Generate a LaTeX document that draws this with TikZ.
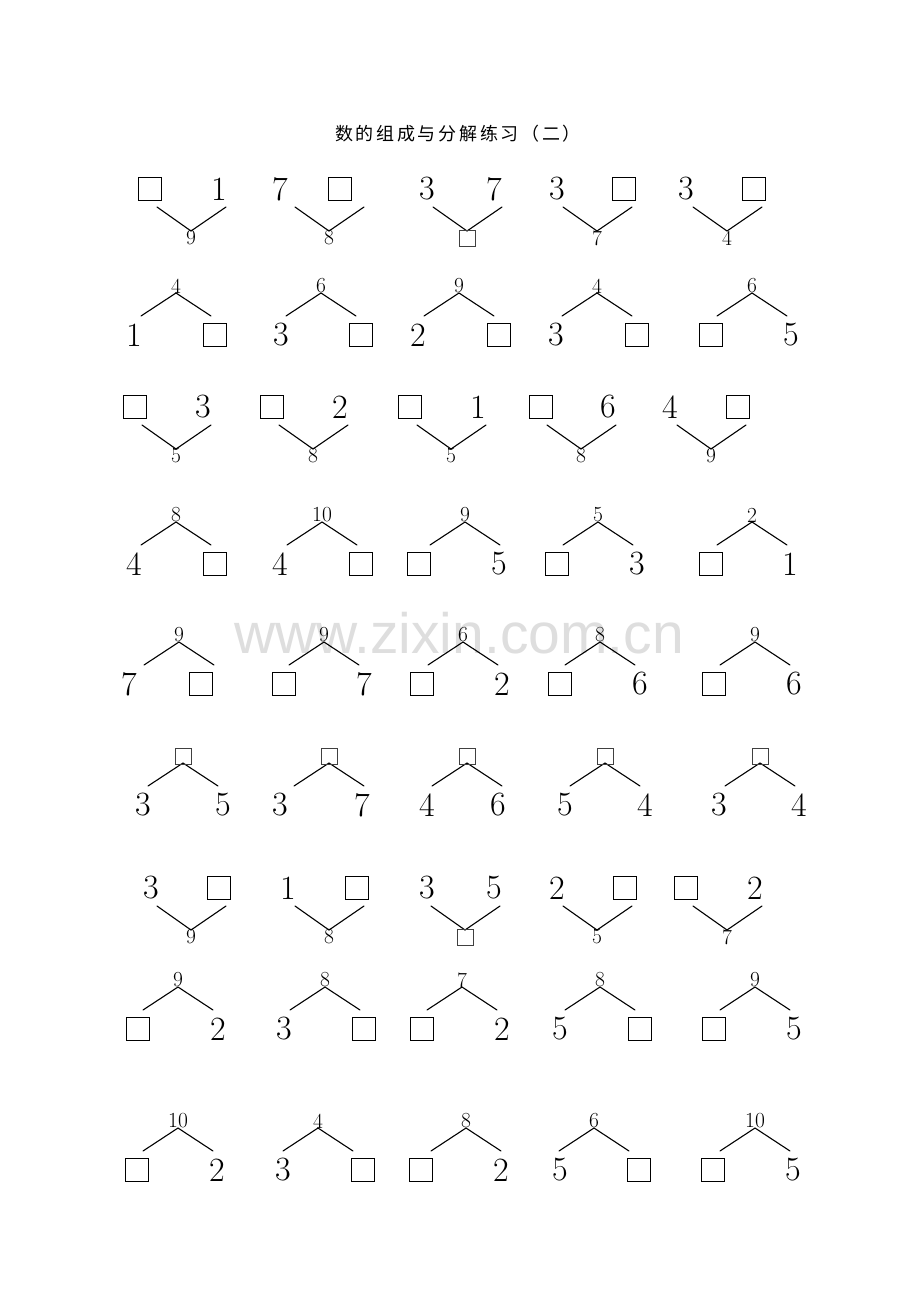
\documentclass[tikz,border=0pt]{standalone}
\usepackage{fontspec}
\newfontfamily\cjk{Noto Sans CJK SC}[LetterSpace=15]
\newfontfamily\wmfont{Liberation Sans}
\tikzset{
  bigdigit/.style={inner sep=0pt, font=\fontsize{34}{34}\selectfont},
  smalldigit/.style={inner sep=0pt, font=\fontsize{21.5}{21.5}\selectfont},
  bigbox/.style={draw, line width=1.1pt, minimum width=23pt, minimum height=23pt, inner sep=0pt},
  smallbox/.style={draw=black!75, line width=0.9pt, minimum width=16pt, minimum height=16pt, inner sep=0pt},
  stem/.style={line width=1.1pt, line cap=round},
  titletext/.style={inner sep=0pt, font=\cjk\fontsize{18}{18}\selectfont},
  watermark/.style={inner sep=0pt, text=black!13, font=\wmfont\fontsize{57}{57}\selectfont}
}
\def\BigB{B}
\def\SmallB{b}
\newcommand\PartNode[3]{\def\tmpspec{#3}\ifx\tmpspec\BigB\node[bigbox] (#1) at (#2) {};\else\node[bigdigit] (#1) at (#2) {#3};\fi}
\newcommand\SumNode[3]{\def\tmpspec{#3}\ifx\tmpspec\SmallB\node[smallbox] (#1) at (#2) {};\else\node[smalldigit] (#1) at (#2) {#3};\fi}
% V shape: two parts on top, total below
\newcommand\ForkDown[8]{%
  \coordinate (#1p) at (#2,#3+24);
  \coordinate (#1u) at (#2-34,#3);
  \coordinate (#1v) at (#2+35,#3);
  \draw[stem] (#1u) -- (#1p) -- (#1v);
  \PartNode{#1l}{#4,#3-18}{#5}
  \PartNode{#1r}{#6,#3-18}{#7}
  \SumNode{#1s}{#2,#3+31}{#8}}
% inverted V: total on top, two parts below
\newcommand\ForkUp[8]{%
  \coordinate (#1p) at (#2,#3);
  \coordinate (#1u) at (#2-35,#3+23);
  \coordinate (#1v) at (#2+35,#3+23);
  \draw[stem] (#1u) -- (#1p) -- (#1v);
  \SumNode{#1s}{#2,#3-7}{#8}
  \PartNode{#1l}{#4,#3+42}{#5}
  \PartNode{#1r}{#6,#3+42}{#7}}
\begin{document}
\begin{tikzpicture}[x=1pt,y=-1pt]
\useasboundingbox (0,0) rectangle (920,1302);
\fill[white] (0,0) rectangle (920,1302);
\node[watermark, anchor=base] (wm) at (459,653) {www.zixin.com.cn};
\node[titletext] (title) at (458,134) {数的组成与分解练习（二）};
% row 1
\ForkDown{a1}{191}{207}{150}{B}{219}{1}{9}
\ForkDown{a2}{329}{207}{280}{7}{340}{B}{8}
\ForkDown{a3}{467}{207}{427}{3}{494}{7}{b}
\ForkDown{a4}{597}{207}{557}{3}{624}{B}{7}
\ForkDown{a5}{727}{207}{686}{3}{754}{B}{4}
% row 2
\ForkUp{b1}{176}{293}{134}{1}{215}{B}{4}
\ForkUp{b2}{321}{293}{281}{3}{361}{B}{6}
\ForkUp{b3}{459}{293}{418}{2}{499}{B}{9}
\ForkUp{b4}{597}{293}{556}{3}{637}{B}{4}
\ForkUp{b5}{752}{293}{711}{B}{791}{5}{6}
% row 3
\ForkDown{c1}{176}{425}{135}{B}{203}{3}{5}
\ForkDown{c2}{313}{425}{272}{B}{340}{2}{8}
\ForkDown{c3}{451}{425}{410}{B}{478}{1}{5}
\ForkDown{c4}{581}{425}{541}{B}{608}{6}{8}
\ForkDown{c5}{711}{425}{670}{4}{738}{B}{9}
% row 4
\ForkUp{d1}{176}{522}{134}{4}{215}{B}{8}
\ForkUp{d2}{322}{522}{280}{4}{361}{B}{10}
\ForkUp{d3}{465}{522}{419}{B}{499}{5}{9}
\ForkUp{d4}{598}{522}{557}{B}{637}{3}{5}
\ForkUp{d5}{752}{522}{711}{B}{790}{1}{2}
% row 5
\ForkUp{e1}{179}{642}{129}{7}{201}{B}{9}
\ForkUp{e2}{324}{642}{284}{B}{364}{7}{9}
\ForkUp{e3}{463}{642}{422}{B}{502}{2}{6}
\ForkUp{e4}{600}{642}{560}{B}{640}{6}{8}
\ForkUp{e5}{755}{642}{714}{B}{794}{6}{9}
% row 6
\ForkUp{f1}{183}{763}{143}{3}{223}{5}{b}
\ForkUp{f2}{329}{763}{280}{3}{362}{7}{b}
\ForkUp{f3}{467}{763}{427}{4}{498}{6}{b}
\ForkUp{f4}{605}{763}{565}{5}{645}{4}{b}
\ForkUp{f5}{760}{763}{719}{3}{799}{4}{b}
% row 7
\ForkDown{g1}{191}{906}{151}{3}{219}{B}{9}
\ForkDown{g2}{329}{906}{288}{1}{357}{B}{8}
\ForkDown{g3}{465}{906}{427}{3}{494}{5}{b}
\ForkDown{g4}{597}{906}{557}{2}{625}{B}{5}
\ForkDown{g5}{727}{906}{686}{B}{755}{2}{7}
% row 8
\ForkUp{h1}{178}{987}{138}{B}{218}{2}{9}
\ForkUp{h2}{325}{987}{284}{3}{364}{B}{8}
\ForkUp{h3}{462}{987}{422}{B}{502}{2}{7}
\ForkUp{h4}{600}{987}{560}{5}{640}{B}{8}
\ForkUp{h5}{755}{987}{714}{B}{794}{5}{9}
% row 9
\ForkUp{i1}{178}{1128}{137}{B}{217}{2}{10}
\ForkUp{i2}{318}{1128}{283}{3}{363}{B}{4}
\ForkUp{i3}{466}{1128}{421}{B}{501}{2}{8}
\ForkUp{i4}{594}{1128}{560}{5}{639}{B}{6}
\ForkUp{i5}{755}{1128}{713}{B}{793}{5}{10}
\end{tikzpicture}
\end{document}
